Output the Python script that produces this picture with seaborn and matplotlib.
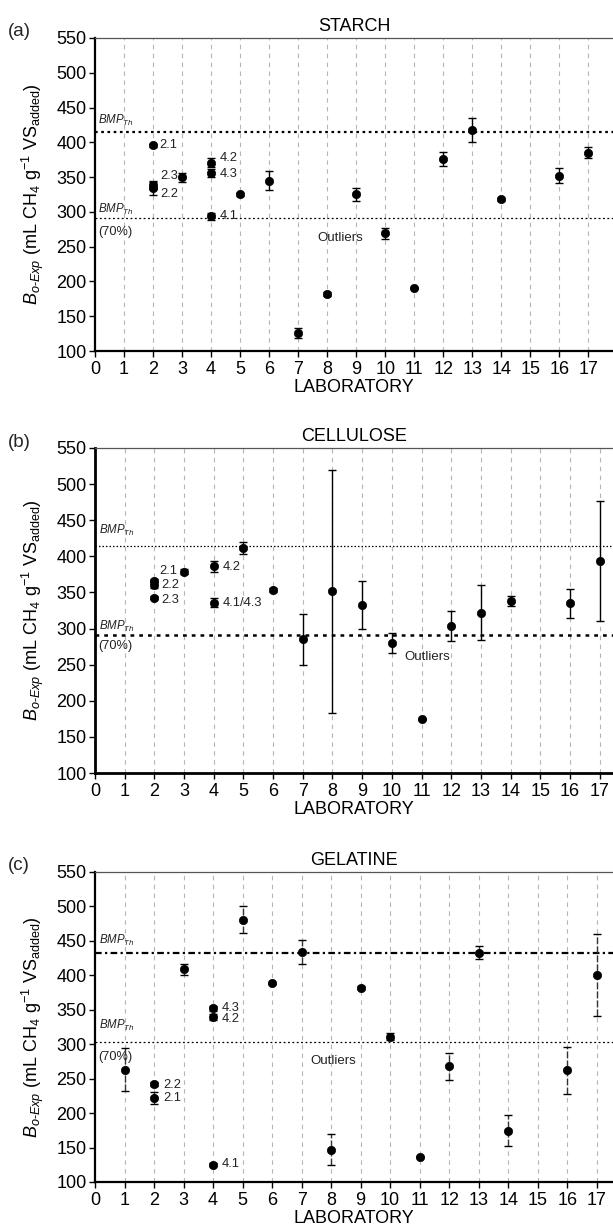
import matplotlib
matplotlib.use("Agg")
import matplotlib.pyplot as plt
import numpy as np
import pandas as pd
import seaborn as sns

# ---- data ----
STARCH_LAB = [2, 2, 2, 3, 4, 4, 4, 5, 6, 7, 8, 9, 10, 11, 12, 13, 14, 16, 17]
STARCH_VAL = [396, 334, 338, 350, 294, 371, 356, 325, 345, 126, 182, 325, 269, 191, 376, 418, 318, 352, 385]
STARCH_ERR = [2, 10, 5, 6.5, 5, 6, 6, 2, 13.5, 7, 3, 10, 8, 0, 10, 17, 2, 10.5, 7.7]

CELL_LAB = [2, 2, 2, 3, 4, 4, 5, 6, 7, 8, 9, 10, 11, 12, 13, 14, 16, 17]
CELL_VAL = [366, 361, 343, 379, 386, 336, 412, 353, 285, 351.5, 333, 280.5, 175, 304, 322, 338, 335, 393.5]
CELL_ERR = [2, 5, 2, 3, 7.5, 6, 8.5, 3, 35, 168.5, 33, 14, 0, 21, 38, 6.5, 20, 82.5]

GEL_LAB = [1, 2, 2, 3, 4, 4, 4, 5, 6, 7, 8, 9, 10, 11, 12, 13, 14, 16, 17]
GEL_VAL = [263, 242, 222, 409, 125, 339.5, 352, 481, 389, 434, 147, 382, 311, 137, 268, 433, 174.5, 262, 400.5]
GEL_ERR = [31, 3, 9, 8, 2, 4, 4, 19.5, 2, 17, 22, 2, 5, 0, 19.5, 9, 22.5, 34, 60]

BMP_TH = [415, 415, 433]
BMP_70 = [290.5, 290.5, 303]

TITLES = ["STARCH", "CELLULOSE", "GELATINE"]
TAGS = ["(a)", "(b)", "(c)"]

# point labels: (text, x, y)
STARCH_NOTES = [("2.1", 2.2, 396), ("2.3", 2.25, 352), ("2.2", 2.25, 326),
                ("4.2", 4.28, 377), ("4.3", 4.28, 355), ("4.1", 4.28, 294)]
CELL_NOTES = [("2.1", 2.18, 380), ("2.2", 2.22, 360), ("2.3", 2.22, 339),
              ("4.2", 4.31, 385), ("4.1/4.3", 4.31, 336)]
GEL_NOTES = [("4.3", 4.3, 353), ("4.2", 4.3, 337), ("2.2", 2.3, 241),
             ("2.1", 2.3, 222), ("4.1", 4.3, 126)]

sns.set_theme(style="white")
plt.rcParams["font.family"] = ["Liberation Sans", "DejaVu Sans"]
plt.rcParams["mathtext.fontset"] = "custom"
plt.rcParams["mathtext.rm"] = "Liberation Sans"
plt.rcParams["mathtext.it"] = "Liberation Sans:italic"

W, H = 613, 1231
fig = plt.figure(figsize=(W / 100, H / 100), dpi=100)

# axes boxes in pixels: (top, bottom)
boxes = [(38, 351), (448, 773), (872, 1182)]
xmax = [17.85, 17.45, 17.55]
left = 95 / W

panels = [
    (STARCH_LAB, STARCH_VAL, STARCH_ERR, STARCH_NOTES),
    (CELL_LAB, CELL_VAL, CELL_ERR, CELL_NOTES),
    (GEL_LAB, GEL_VAL, GEL_ERR, GEL_NOTES),
]
# (upper lw, lower lw)
line_w = [(1.6, 0.9), (0.9, 1.8), (1.6, 0.9)]
bmp_txt_y = [(421, 293), (425, 293), (440, 316)]
pct_txt_y = [271, 276, 282]
outlier_pos = [(8.45, 262), (11.2, 260), (8.06, 275)]

ylab = r"$B_{o\text{-}Exp}$ (mL CH$_4$ g$^{-1}$ VS$_{\mathrm{added}}$)"
FS = 13

for i, (labs, vals, errs, notes) in enumerate(panels):
    top, bot = boxes[i]
    ax = fig.add_axes([left, 1 - bot / H, 1 - left, (bot - top) / H])
    df = pd.DataFrame({"lab": labs, "val": vals, "err": errs})

    # vertical dashed grid
    for k in range(1, 18):
        ax.axvline(k, color="#b5b5b5", lw=0.8, ls=(0, (4, 4)), zorder=0)

    ax.axhline(BMP_TH[i], color="black", lw=line_w[i][0],
               ls=(0, (1.2, 1.6)) if i != 2 else (0, (3, 1.5, 1, 1.5)), zorder=1)
    ax.axhline(BMP_70[i], color="black", lw=line_w[i][1], ls=(0, (1.5, 2)), zorder=1)

    eb = ax.errorbar(df["lab"], df["val"], yerr=df["err"], fmt="none", ecolor="black",
                     elinewidth=1.0, capsize=3, capthick=1.0, zorder=2)
    if i == 2:
        for lc in eb[2]:
            lc.set_linestyle((0, (5, 1.5)))
            lc.set_color("#333333")
    sns.scatterplot(data=df, x="lab", y="val", color="black", s=36, edgecolor="black",
                    linewidth=0.5, ax=ax, zorder=3, legend=False)

    for txt, tx, ty in notes:
        ax.text(tx, ty, txt, fontsize=9.3, va="center", ha="left", color="#222222")

    ax.text(0.12, bmp_txt_y[i][0], r"$\mathit{BMP}_{\mathit{Th}}$", fontsize=8.3, va="bottom", color="#222222")
    ax.text(0.12, bmp_txt_y[i][1], r"$\mathit{BMP}_{\mathit{Th}}$", fontsize=8.3, va="bottom", color="#222222")
    ax.text(0.1, pct_txt_y[i], "(70%)", fontsize=9.2, va="center", color="#222222")
    ax.text(outlier_pos[i][0], outlier_pos[i][1], "Outliers", fontsize=9.5, ha="center",
            va="center", color="#222222")

    ax.set_xlim(0, xmax[i])
    ax.set_ylim(100, 550)
    ax.set_xticks(range(0, 18))
    ax.set_yticks(range(100, 551, 50))
    ax.tick_params(axis="both", direction="out", length=4, width=1, labelsize=FS,
                   color="black", labelcolor="black", pad=2, bottom=True, left=True)
    ax.tick_params(axis="x", pad=3)
    for s in ["left", "bottom"]:
        ax.spines[s].set_color("black")
        ax.spines[s].set_linewidth(1.6 if i != 1 else 2.0)
    ax.spines["top"].set_color("#555555")
    ax.spines["top"].set_linewidth(0.9)
    ax.spines["right"].set_visible(False)

    ax.set_xlabel("LABORATORY", fontsize=FS, labelpad=1, color="black")
    ax.set_ylabel(ylab, fontsize=FS, color="black")
    ax.yaxis.set_label_coords(-0.095, 0.5)
    ax.set_title(TITLES[i], fontsize=FS, pad=5, color="black")
    fig.text(8 / W, 1 - (top - 6) / H, TAGS[i], fontsize=FS + 0.5, ha="left", va="center")

fig.savefig("out.png", dpi=100)
